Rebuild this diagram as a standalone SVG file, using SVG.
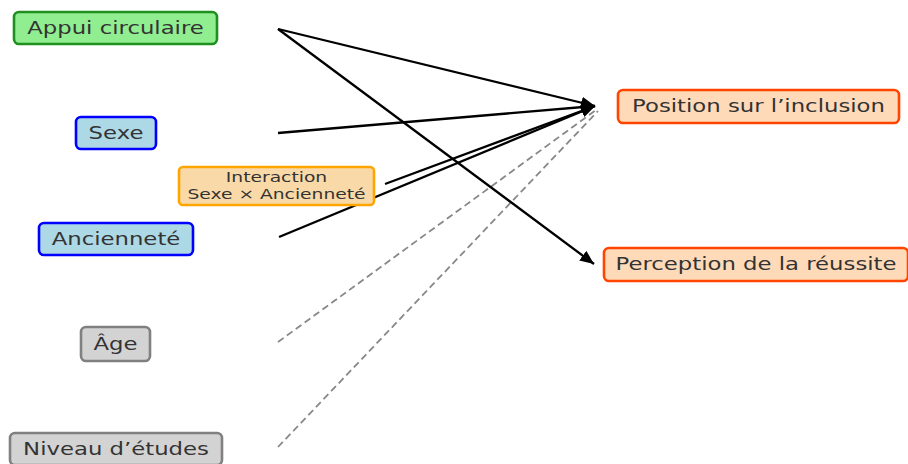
<svg xmlns="http://www.w3.org/2000/svg" width="908" height="464" viewBox="0 0 908 464">
<style>
text{font-family:"DejaVu Sans","Liberation Sans",sans-serif;fill:#333;text-anchor:middle}
.lbl{font-size:18px}
.sm{font-size:14.5px}
rect{stroke-width:2.6}
.e{fill:none;stroke:#000;stroke-width:2.3}
.d{fill:none;stroke:#888;stroke-width:1.8;stroke-dasharray:7 4}
</style>
<defs>
<marker id="ah" markerUnits="userSpaceOnUse" markerWidth="16" markerHeight="12" refX="14" refY="6" orient="auto">
<path d="M0,0 L14,6 L0,12 Z" fill="#000"/>
</marker>
</defs>
<rect width="908" height="464" fill="#fff" stroke="none"/>
<g id="connectors">
<line class="d" x1="278" y1="342" x2="596" y2="110"/>
<line class="d" x1="278" y1="447" x2="598" y2="111"/>
<line class="e" x1="278" y1="29" x2="595" y2="106" marker-end="url(#ah)"/>
<line class="e" x1="278" y1="29" x2="594" y2="264" marker-end="url(#ah)"/>
<line class="e" x1="278" y1="133" x2="595" y2="106" marker-end="url(#ah)"/>
<line class="e" x1="385" y1="184" x2="595" y2="106" marker-end="url(#ah)"/>
<line class="e" x1="279" y1="237" x2="595" y2="106" marker-end="url(#ah)"/>
</g>
<g id="appui"><rect x="14" y="12" width="203" height="32" rx="5" fill="#90EE90" stroke="#1f8f1f"/><text class="lbl" transform="translate(115.5,34) scale(1.265,1)">Appui circulaire</text></g>
<g id="sexe"><rect x="76" y="117" width="80" height="32" rx="5" fill="#ADD8E6" stroke="#0000FF"/><text class="lbl" transform="translate(116,139) scale(1.265,1)">Sexe</text></g>
<g id="interaction"><rect x="179" y="167" width="195" height="38" rx="4" fill="#FAD9A8" stroke="#FFA500"/><text class="sm" transform="translate(276.5,182) scale(1.29,1)">Interaction</text><text class="sm" transform="translate(276.5,199) scale(1.29,1)">Sexe × Ancienneté</text></g>
<g id="anciennete"><rect x="39" y="223" width="154" height="32" rx="5" fill="#ADD8E6" stroke="#0000FF"/><text class="lbl" transform="translate(116,245) scale(1.265,1)">Ancienneté</text></g>
<g id="age"><rect x="81" y="327" width="69" height="34" rx="5" fill="#D3D3D3" stroke="#808080"/><text class="lbl" transform="translate(115.5,350) scale(1.265,1)">Âge</text></g>
<g id="niveau"><rect x="10" y="433" width="212" height="32" rx="5" fill="#D3D3D3" stroke="#808080"/><text class="lbl" transform="translate(116,455) scale(1.265,1)">Niveau d’études</text></g>
<g id="position"><rect x="618" y="90" width="281" height="33" rx="5" fill="#FFDAB9" stroke="#FF4500"/><text class="lbl" transform="translate(758.5,112) scale(1.265,1)">Position sur l’inclusion</text></g>
<g id="perception"><rect x="604" y="248" width="304" height="33" rx="5" fill="#FFDAB9" stroke="#FF4500"/><text class="lbl" transform="translate(756,270) scale(1.265,1)">Perception de la réussite</text></g>
</svg>
